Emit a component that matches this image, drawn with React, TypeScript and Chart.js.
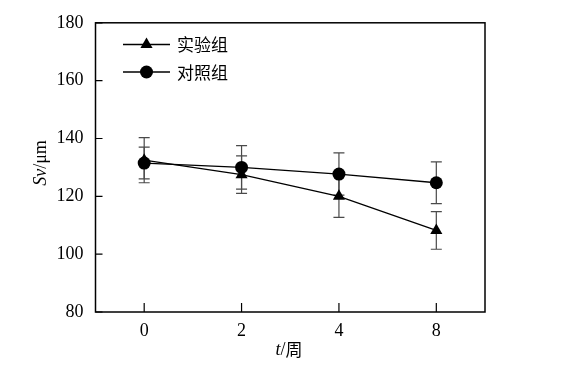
import React, { useEffect, useRef } from 'react';
import { Chart, registerables } from 'chart.js';

Chart.register(...registerables);

const categories = ['0', '2', '4', '8'];
const expLabel = '实验组';
const ctrlLabel = '对照组';
const expValues = [132.5, 127.5, 120.0, 108.2];
const expErr = [7.8, 6.5, 7.3, 6.5];
const ctrlValues = [131.5, 130.0, 127.7, 124.7];
const ctrlErr = [5.5, 7.5, 7.3, 7.2];
const yMin = 80;
const yMax = 180;
const yStep = 20;
const yTitleItalic = 'Sv';
const yTitleRest = '/μm';
const xTitleItalic = 't';
const xTitleRest = '/周';

const SERIF = '"Liberation Serif", "Times New Roman", serif';
const CJK = '"Noto Sans CJK SC", sans-serif';

function drawTriangle(ctx: CanvasRenderingContext2D, x: number, y: number, r: number) {
  let rad = 0;
  const t = (2 * Math.PI) / 3;
  ctx.beginPath();
  ctx.moveTo(x + Math.sin(rad) * r, y - Math.cos(rad) * r);
  rad += t;
  ctx.lineTo(x + Math.sin(rad) * r, y - Math.cos(rad) * r);
  rad += t;
  ctx.lineTo(x + Math.sin(rad) * r, y - Math.cos(rad) * r);
  ctx.closePath();
  ctx.fill();
}

function drawCircle(ctx: CanvasRenderingContext2D, x: number, y: number, r: number) {
  ctx.beginPath();
  ctx.arc(x, y, r, 0, Math.PI * 2);
  ctx.fill();
}

const errorBarPlugin = {
  id: 'errorBars',
  beforeDatasetsDraw(chart: any) {
    const ctx = chart.ctx as CanvasRenderingContext2D;
    const y = chart.scales.y;
    const errs = [expErr, ctrlErr];
    ctx.save();
    ctx.strokeStyle = '#4a4a4a';
    ctx.lineWidth = 1.2;
    chart.data.datasets.forEach((ds: any, di: number) => {
      const meta = chart.getDatasetMeta(di);
      meta.data.forEach((pt: any, i: number) => {
        const v = ds.data[i];
        const e = errs[di][i];
        const yt = y.getPixelForValue(v + e);
        const yb = y.getPixelForValue(v - e);
        const x = pt.x;
        ctx.beginPath();
        ctx.moveTo(x, yt);
        ctx.lineTo(x, yb);
        ctx.moveTo(x - 5.5, yt);
        ctx.lineTo(x + 5.5, yt);
        ctx.moveTo(x - 5.5, yb);
        ctx.lineTo(x + 5.5, yb);
        ctx.stroke();
      });
    });
    ctx.restore();
  },
};

const framePlugin = {
  id: 'frame',
  afterDraw(chart: any) {
    const ctx = chart.ctx as CanvasRenderingContext2D;
    const { left, right, top, bottom } = chart.chartArea;
    const xs = chart.scales.x;
    const ys = chart.scales.y;
    ctx.save();
    ctx.strokeStyle = '#000';
    ctx.lineWidth = 1.5;
    ctx.strokeRect(left, top, right - left, bottom - top);
    // inward ticks
    ctx.lineWidth = 1.2;
    ctx.beginPath();
    for (let v = yMin; v <= yMax; v += yStep) {
      const py = ys.getPixelForValue(v);
      ctx.moveTo(left, py);
      ctx.lineTo(left + 7, py);
    }
    categories.forEach((_, i) => {
      const px = xs.getPixelForValue(i);
      ctx.moveTo(px, bottom);
      ctx.lineTo(px, bottom - 9);
    });
    ctx.stroke();

    // legend
    const lx0 = 123;
    const lx1 = 170;
    const mx = 146.5;
    const rows = [
      { y: 44.5, label: expLabel, tri: true },
      { y: 72, label: ctrlLabel, tri: false },
    ];
    ctx.fillStyle = '#000';
    rows.forEach((r) => {
      ctx.lineWidth = 1.3;
      ctx.beginPath();
      ctx.moveTo(lx0, r.y);
      ctx.lineTo(lx1, r.y);
      ctx.stroke();
      if (r.tri) drawTriangle(ctx, mx, r.y, 7);
      else drawCircle(ctx, mx, r.y, 6.5);
      ctx.font = `17px ${CJK}`;
      ctx.textBaseline = 'middle';
      ctx.textAlign = 'left';
      ctx.fillText(r.label, 177, r.y + 0.5);
    });

    // x title
    ctx.textBaseline = 'middle';
    ctx.textAlign = 'left';
    ctx.font = `italic 18px ${SERIF}`;
    const w1 = ctx.measureText(xTitleItalic).width;
    ctx.font = `18px ${SERIF}`;
    const w2 = ctx.measureText('/').width;
    ctx.font = `17px ${CJK}`;
    const w3 = ctx.measureText('周').width;
    let sx = 289 - (w1 + w2 + w3) / 2;
    const ty = 350;
    ctx.font = `italic 18px ${SERIF}`;
    ctx.fillText(xTitleItalic, sx, ty);
    sx += w1;
    ctx.font = `18px ${SERIF}`;
    ctx.fillText('/', sx, ty);
    sx += w2;
    ctx.font = `17px ${CJK}`;
    ctx.fillText(xTitleRest.slice(1), sx, ty);

    // y title
    ctx.save();
    ctx.translate(41, 163);
    ctx.rotate(-Math.PI / 2);
    ctx.font = `italic 18px ${SERIF}`;
    const a1 = ctx.measureText(yTitleItalic).width;
    ctx.font = `18px ${SERIF}`;
    const a2 = ctx.measureText(yTitleRest).width;
    let s2 = -(a1 + a2) / 2;
    ctx.font = `italic 18px ${SERIF}`;
    ctx.fillText(yTitleItalic, s2, 0);
    s2 += a1;
    ctx.font = `18px ${SERIF}`;
    ctx.fillText(yTitleRest, s2, 0);
    ctx.restore();

    ctx.restore();
  },
};

export default function App() {
  const ref = useRef<HTMLCanvasElement | null>(null);
  useEffect(() => {
    if (!ref.current) return;
    const chart = new Chart(ref.current, {
      type: 'line',
      data: {
        labels: categories,
        datasets: [
          {
            label: expLabel,
            data: expValues,
            borderColor: '#000',
            backgroundColor: '#000',
            borderWidth: 1.3,
            pointStyle: 'triangle',
            pointRadius: 7,
            pointBorderWidth: 0,
            tension: 0,
          },
          {
            label: ctrlLabel,
            data: ctrlValues,
            borderColor: '#000',
            backgroundColor: '#000',
            borderWidth: 1.3,
            pointStyle: 'circle',
            pointRadius: 6.5,
            pointBorderWidth: 0,
            tension: 0,
          },
        ],
      },
      options: {
        animation: false,
        responsive: false,
        maintainAspectRatio: false,
        layout: { padding: { top: 20, right: 87, left: 0, bottom: 0 } },
        plugins: {
          legend: { display: false },
          tooltip: { enabled: false },
          title: { display: false },
        },
        scales: {
          x: {
            type: 'category',
            offset: true,
            grid: { display: false, drawTicks: false },
            border: { display: false },
            ticks: {
              color: '#000',
              font: { family: SERIF, size: 18 },
              padding: 8,
            },
            afterFit: (s: any) => {
              s.height = 55;
            },
          },
          y: {
            min: yMin,
            max: yMax,
            grid: { display: false, drawTicks: false },
            border: { display: false },
            ticks: {
              stepSize: yStep,
              color: '#000',
              font: { family: SERIF, size: 18 },
              padding: 12,
            },
            afterFit: (s: any) => {
              s.width = 95.5;
            },
          },
        },
      },
      plugins: [errorBarPlugin, framePlugin],
    });
    return () => chart.destroy();
  }, []);
  return (
    <div style={{ position: 'fixed', left: 0, top: 0, width: 572, height: 367, background: '#fff' }}>
      <canvas ref={ref} width={572} height={367} style={{ width: 572, height: 367 }} />
    </div>
  );
}
